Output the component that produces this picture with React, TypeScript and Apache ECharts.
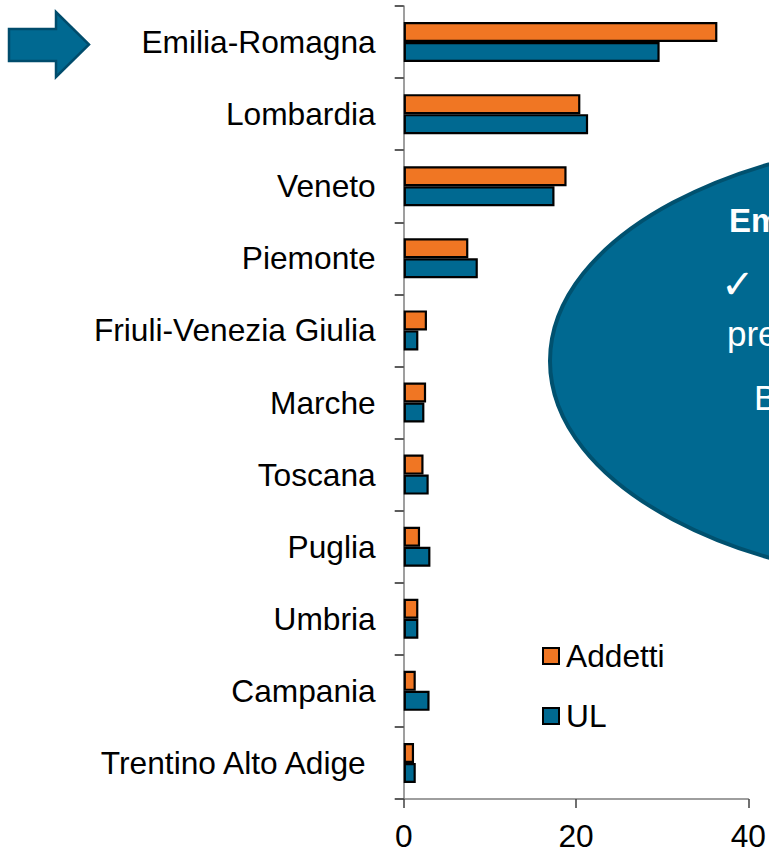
import React, { useEffect, useRef } from "react";
import * as echarts from "echarts";

const categories = [
  "Emilia-Romagna",
  "Lombardia",
  "Veneto",
  "Piemonte",
  "Friuli-Venezia Giulia",
  "Marche",
  "Toscana",
  "Puglia",
  "Umbria",
  "Campania",
  "Trentino Alto Adige",
];
const addetti = [36.4, 20.5, 18.9, 7.5, 2.7, 2.6, 2.3, 1.9, 1.7, 1.4, 1.2];
const ul = [29.7, 21.4, 17.5, 8.6, 1.7, 2.4, 2.9, 3.1, 1.7, 3.0, 1.4];
const seriesNames = ["Addetti", "UL"];
const xTicks = { min: 0, max: 40, interval: 20 };
const bubbleTexts = ["Em", "\u2713", "pre", "B"];

const FONT = "'Liberation Sans', Arial, Helvetica, sans-serif";
const ORANGE = "#F07623";
const BLUE = "#006991";
const FS = 31.7;

export default function App() {
  const ref = useRef<HTMLDivElement>(null);
  useEffect(() => {
    if (!ref.current) return;
    const chart = echarts.init(ref.current, undefined, { renderer: "svg" });
    const option: any = {
      animation: false,
      backgroundColor: "#ffffff",
      textStyle: { fontFamily: FONT },
      grid: { left: 403.7, right: 20.3, top: 6, bottom: 50.3, containLabel: false },
      legend: {
        data: seriesNames,
        orient: "vertical",
        left: 537,
        top: 635,
        padding: 5,
        itemWidth: 16,
        itemHeight: 16,
        itemGap: 28,
        icon: "rect",
        textStyle: { fontSize: FS, color: "#000", fontFamily: FONT, padding: [0, 0, 0, 2] },
      },
      xAxis: {
        type: "value",
        min: xTicks.min,
        max: xTicks.max,
        interval: xTicks.interval,
        splitLine: { show: false },
        axisLine: { show: true, lineStyle: { color: "#7f7f7f", width: 1.5 } },
        axisTick: { show: true, length: 9, lineStyle: { color: "#404040", width: 1.5 } },
        axisLabel: { fontSize: FS, color: "#000", margin: 21, fontFamily: FONT },
      },
      yAxis: {
        type: "category",
        inverse: true,
        data: categories,
        axisLine: { show: true, lineStyle: { color: "#7f7f7f", width: 1.5 } },
        axisTick: { show: true, length: 9, interval: 0, lineStyle: { color: "#262626", width: 1.5 } },
        axisLabel: {
          interval: 0,
          fontSize: FS,
          color: "#000",
          margin: 28,
          fontFamily: FONT,
          formatter: (v: string) =>
            v === "Trentino Alto Adige" ? "{p|" + v + "}" : v,
          rich: {
            p: { fontSize: FS, color: "#000", fontFamily: FONT, padding: [0, 10, 0, 0] },
          },
        },
      },
      series: [
        {
          name: seriesNames[0],
          type: "bar",
          data: addetti,
          barWidth: 20,
          barGap: "0%",
          itemStyle: { color: ORANGE, borderColor: "#000", borderWidth: 2.2 },
        },
        {
          name: seriesNames[1],
          type: "bar",
          data: ul,
          barWidth: 20,
          barGap: "0%",
          itemStyle: { color: BLUE, borderColor: "#000", borderWidth: 2.2 },
        },
      ],
      graphic: [
        {
          type: "polygon",
          shape: {
            points: [
              [9, 29],
              [56, 29],
              [56, 12],
              [89, 44.5],
              [56, 77],
              [56, 61],
              [9, 61],
            ],
          },
          style: { fill: BLUE, stroke: "#004c6c", lineWidth: 2.5 },
        },
        {
          type: "ellipse",
          shape: { cx: 970, cy: 361, rx: 420, ry: 224 },
          style: { fill: BLUE, stroke: "#00516f", lineWidth: 4 },
        },
        {
          type: "text",
          style: {
            x: 729,
            y: 220.5,
            text: bubbleTexts[0],
            fill: "#fff",
            font: `bold 33px ${FONT}`,
            verticalAlign: "middle",
            align: "left",
          },
        },
        {
          type: "text",
          style: {
            x: 721,
            y: 284,
            text: bubbleTexts[1],
            fill: "#fff",
            font: `40px 'DejaVu Sans', sans-serif`,
            verticalAlign: "middle",
            align: "left",
          },
        },
        {
          type: "text",
          style: {
            x: 727,
            y: 333,
            text: bubbleTexts[2],
            fill: "#fff",
            font: `35px ${FONT}`,
            verticalAlign: "middle",
            align: "left",
          },
        },
        {
          type: "text",
          style: {
            x: 754,
            y: 397,
            text: bubbleTexts[3],
            fill: "#fff",
            font: `35px ${FONT}`,
            verticalAlign: "middle",
            align: "left",
          },
        },
      ],
    };
    chart.setOption(option);
    return () => chart.dispose();
  }, []);
  return (
    <div
      ref={ref}
      style={{ position: "absolute", left: 0, top: 0, width: 769, height: 852 }}
    />
  );
}
